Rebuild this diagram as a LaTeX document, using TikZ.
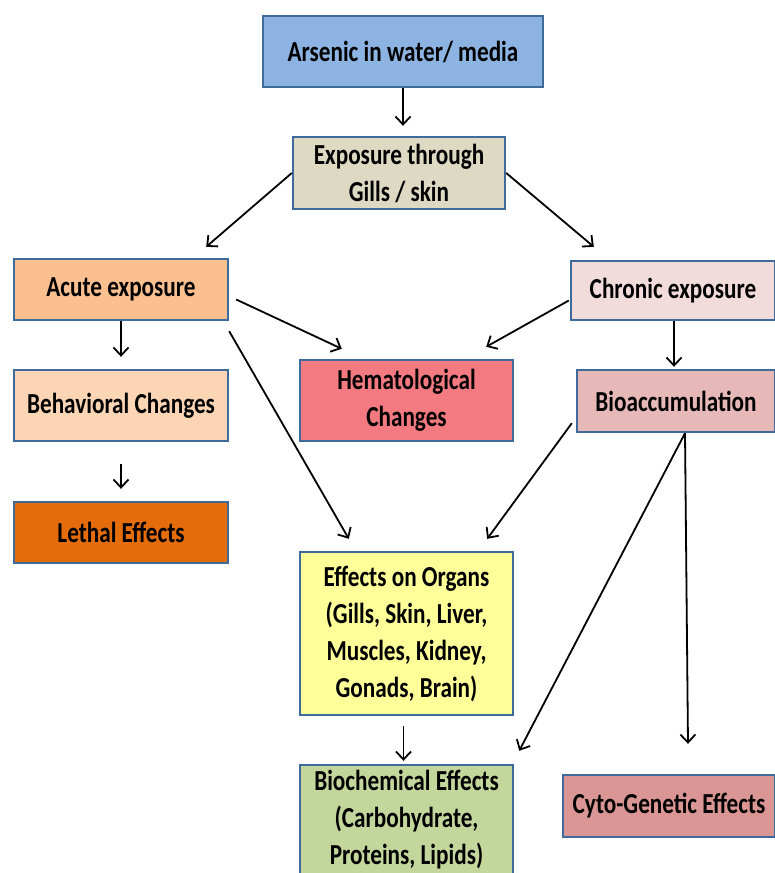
\documentclass[tikz,border=0pt]{standalone}
\usepackage{fontspec}
\setmainfont{Carlito}[FakeStretch=0.8]
\usetikzlibrary{arrows.meta,calc}
\definecolor{edgeblue}{HTML}{3F6A9C}
\definecolor{cArs}{HTML}{8DB3E2}
\definecolor{cExp}{HTML}{DDD9C3}
\definecolor{cAcute}{HTML}{FAC090}
\definecolor{cBehav}{HTML}{FCD5B5}
\definecolor{cLethal}{HTML}{E46C0A}
\definecolor{cHema}{HTML}{F37A80}
\definecolor{cChron}{HTML}{F2DCDB}
\definecolor{cBio}{HTML}{E6B9B8}
\definecolor{cOrg}{HTML}{FFFF99}
\definecolor{cBiochem}{HTML}{C3D69B}
\definecolor{cCyto}{HTML}{DA9694}
\begin{document}
\begin{tikzpicture}[x=1pt,y=-1pt,
  box/.style={draw=edgeblue,line width=2.4pt,inner sep=0pt,align=center,
    font=\fontsize{29}{37}\selectfont\bfseries},
  arr/.style={draw=black,line width=1.8pt,-{Straight Barb[length=8pt,width=15pt,line width=1.8pt]}}]
\useasboundingbox[fill=white] (0,0) rectangle (775,873);
\begin{scope}
\clip (0,0) rectangle (775,873);
\node[box,fill=cArs,minimum width=280pt,minimum height=71pt] (ars) at (403,51.5) {Arsenic in water/ media};
\node[box,fill=cExp,minimum width=212pt,minimum height=72pt] (exp) at (399,173) {Exposure through\\Gills / skin};
\node[box,fill=cAcute,minimum width=214pt,minimum height=61pt] (acute) at (121,289.5) {Acute exposure};
\node[box,fill=cChron,minimum width=204pt,minimum height=59pt] (chron) at (673,290.5) {Chronic exposure};
\node[box,fill=cBehav,minimum width=214pt,minimum height=71pt] (behav) at (121,405.5) {Behavioral Changes};
\node[box,fill=cHema,minimum width=213pt,minimum height=81pt] (hema) at (406.5,400.5) {Hematological\\Changes};
\node[box,fill=cBio,minimum width=198pt,minimum height=62pt] (bio) at (676,401) {Bioaccumulation};
\node[box,fill=cLethal,minimum width=214pt,minimum height=61pt] (lethal) at (121,532.5) {Lethal Effects};
\node[box,fill=cOrg,minimum width=213pt,minimum height=163pt] (org) at (406.5,633.5) {Effects on Organs\\(Gills, Skin, Liver,\\Muscles, Kidney,\\Gonads, Brain)};
\node[box,fill=cBiochem,minimum width=213pt,minimum height=110pt] (biochem) at (406.5,820) {Biochemical Effects\\(Carbohydrate,\\Proteins, Lipids)};
\node[box,fill=cCyto,minimum width=212pt,minimum height=62pt] (cyto) at (669,806) {Cyto-Genetic Effects};
\end{scope}
% connectors
\draw[arr,shorten >=10pt] (ars.south) -- (ars.south |- exp.north);
\draw[arr] (exp.west) -- ([shift={(-23,-11)}]acute.north east);
\draw[arr] (exp.east) -- ([shift={(24,-13)}]chron.north west);
\draw[arr,shorten >=12pt] (acute.south) -- (behav.north);
\draw[arr,shorten <=22pt,shorten >=12pt] (behav.south) -- (lethal.north);
\draw[arr] ([shift={(7,10)}]acute.east) -- ([shift={(43,-10)}]hema.north west);
\draw[arr] ([shift={(0,10)}]acute.south east) -- ([shift={(50,-12)}]org.north west);
\draw[arr] ([shift={(-1,10)}]chron.west) -- ([shift={(-28,-12)}]hema.north east);
\draw[arr,shorten >=2pt] ([xshift=1pt]chron.south) -- ([xshift=1pt]chron.south |- bio.north);
\draw[arr] ([shift={(-4,-10)}]bio.south west) -- ([shift={(-27,-12)}]org.north east);
\draw[arr] ([xshift=9pt]bio.south) -- ([shift={(5,-13)}]biochem.north east);
\draw[arr] ([xshift=9pt]bio.south) -- ([shift={(19,-30)}]cyto.north);
\draw[arr] ([shift={(-3,10)}]org.south) -- ([shift={(-3,-3)}]biochem.north);
\end{tikzpicture}
\end{document}
